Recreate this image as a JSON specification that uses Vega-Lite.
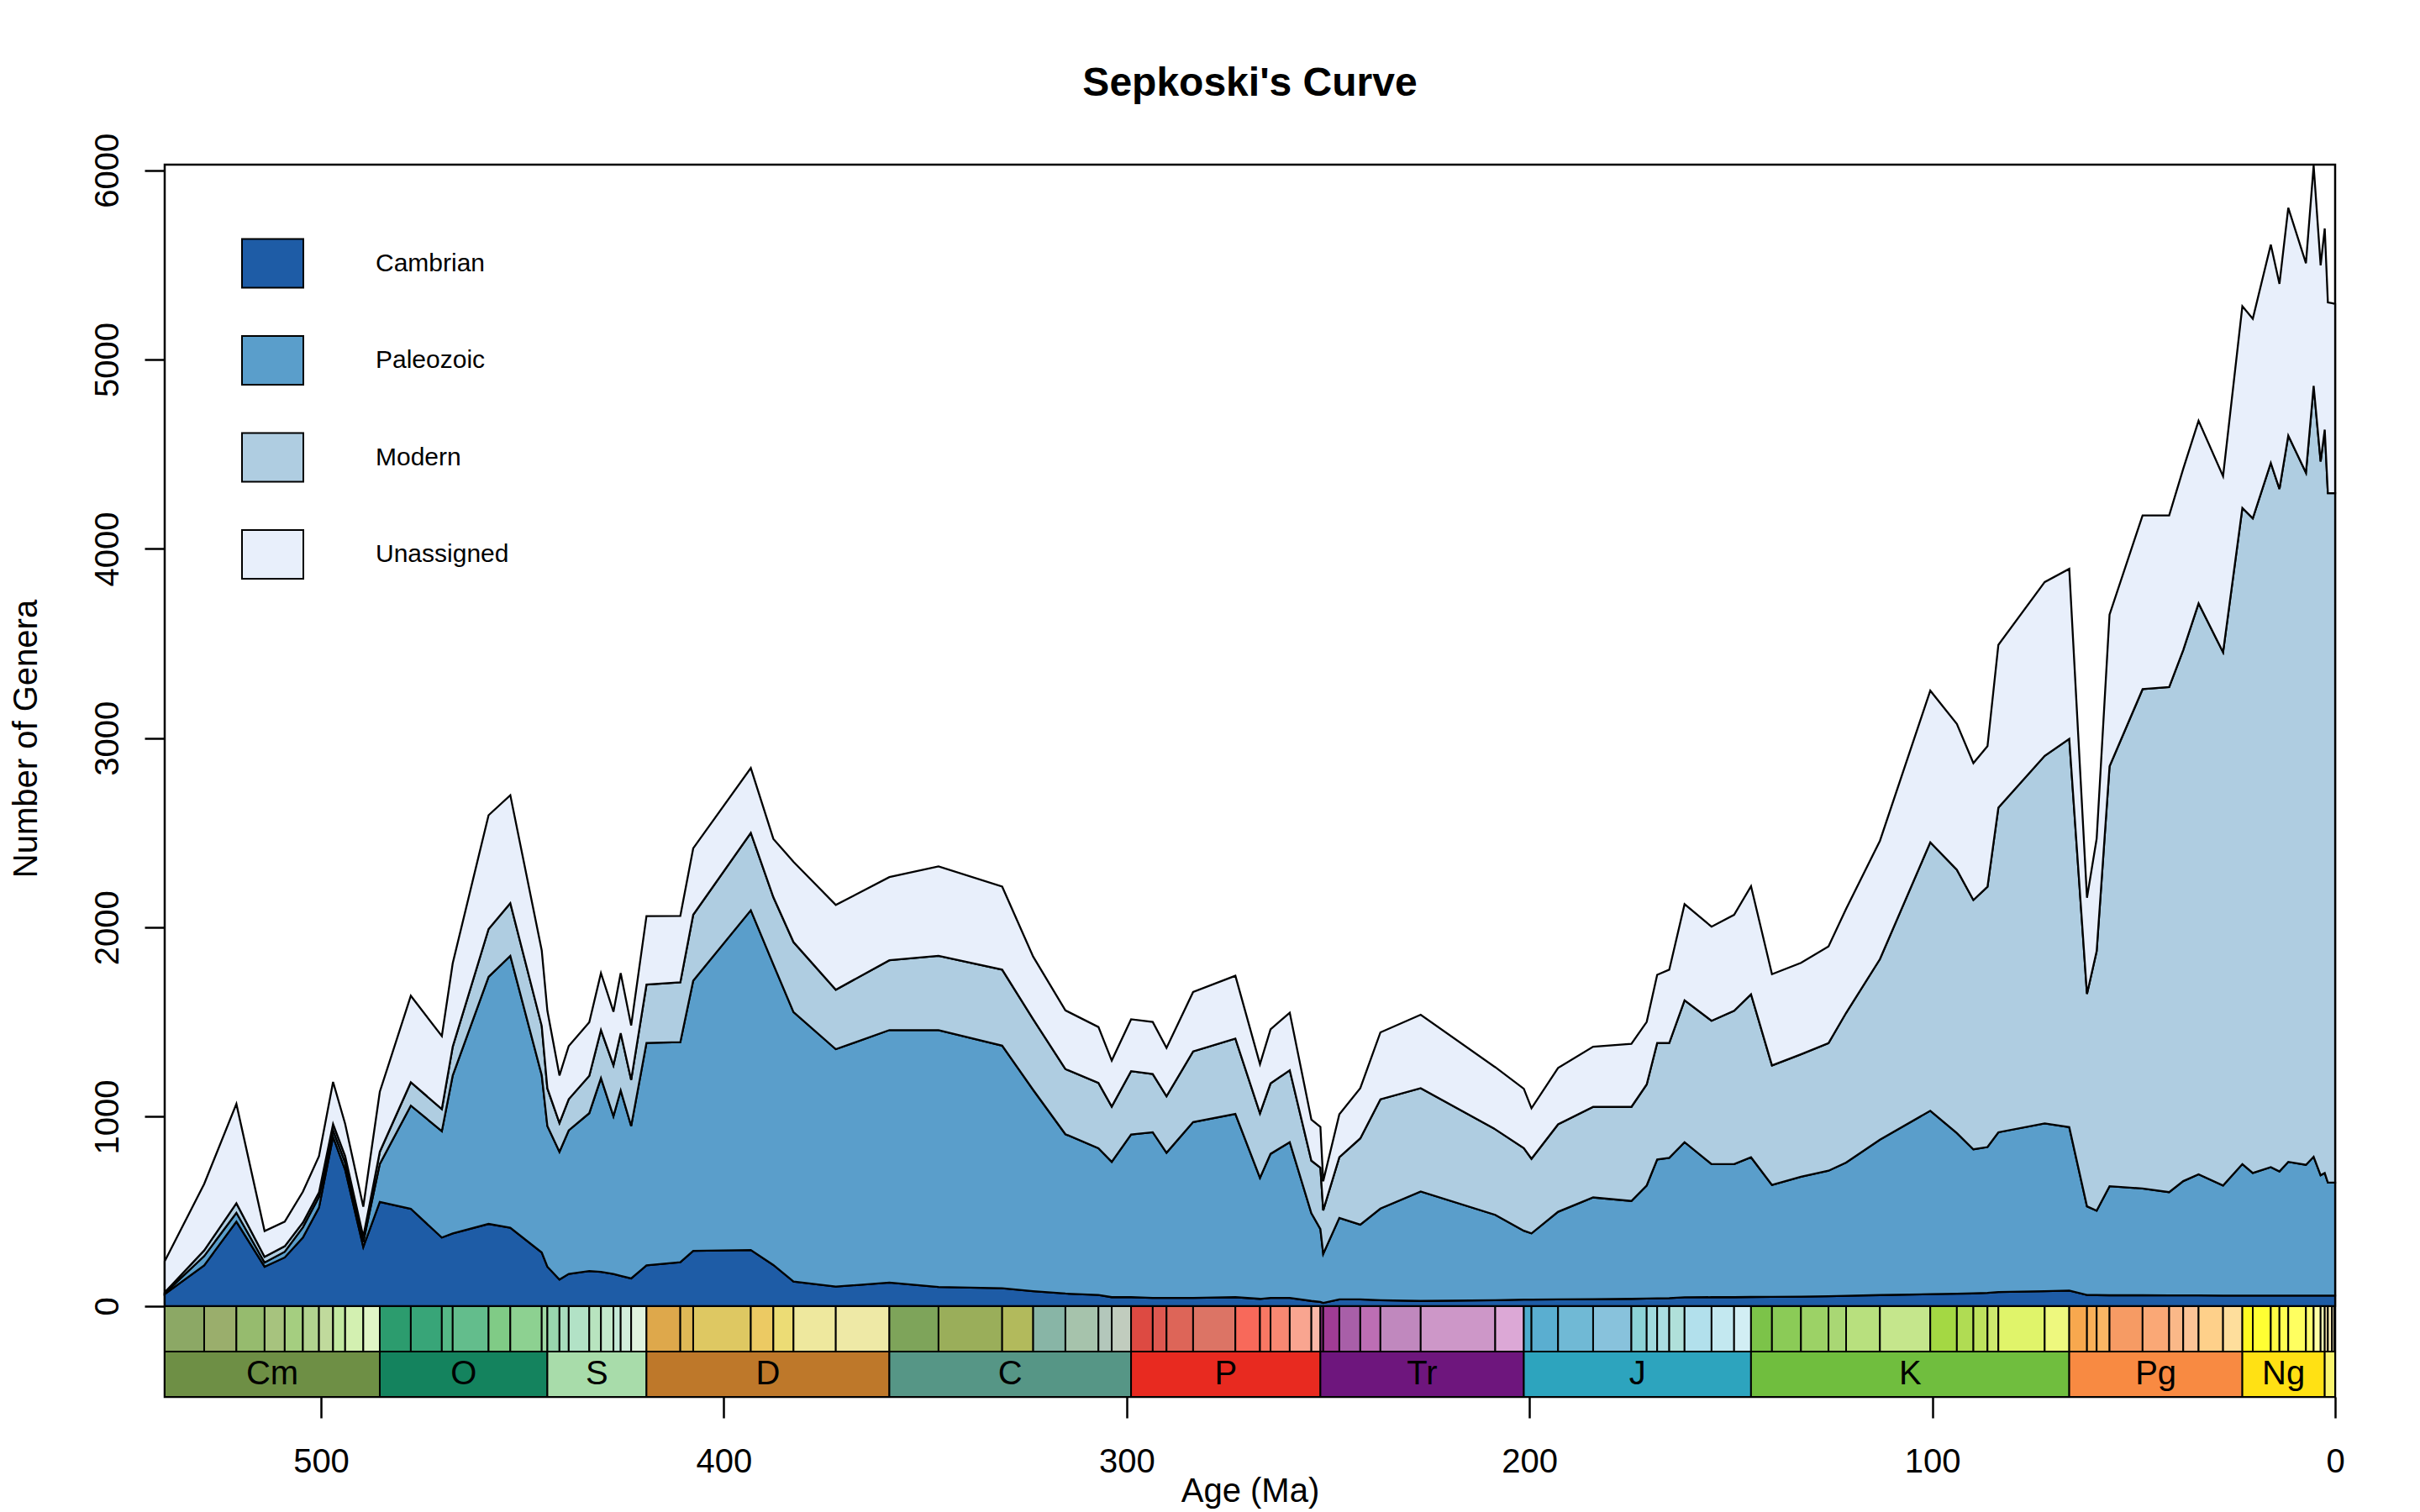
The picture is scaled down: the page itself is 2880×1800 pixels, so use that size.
{
  "$schema": "https://vega.github.io/schema/vega-lite/v6.json",
  "description": "Sepkoski's curve: stacked marine genera by evolutionary fauna, with geologic timescale",
  "width": 2583,
  "height": 1467,
  "autosize": {"type": "none"},
  "padding": {"left": 196, "top": 196, "right": 101, "bottom": 137},
  "background": "white",
  "title": {
    "text": "Sepkoski's Curve",
    "fontSize": 48,
    "fontWeight": "bold",
    "color": "black",
    "frame": "group",
    "anchor": "middle",
    "baseline": "alphabetic",
    "offset": -4
  },
  "config": {
    "font": "Liberation Sans",
    "view": {"stroke": "black", "strokeWidth": 2.5},
    "axis": {
      "grid": false,
      "domain": false,
      "tickColor": "black",
      "tickWidth": 2.5,
      "labelColor": "black",
      "titleColor": "black",
      "labelFontSize": 40,
      "titleFontSize": 40,
      "titleFontWeight": "normal"
    }
  },
  "datasets": {
    "sepkoski": [
      {"age": 538.8, "fauna": "Cambrian", "genera": 63}, {"age": 538.8, "fauna": "Paleozoic", "genera": 4}, {"age": 538.8, "fauna": "Modern", "genera": 5}, {"age": 538.8, "fauna": "Unassigned", "genera": 165},
      {"age": 529, "fauna": "Cambrian", "genera": 215}, {"age": 529, "fauna": "Paleozoic", "genera": 49}, {"age": 529, "fauna": "Modern", "genera": 30}, {"age": 529, "fauna": "Unassigned", "genera": 351},
      {"age": 521, "fauna": "Cambrian", "genera": 446}, {"age": 521, "fauna": "Paleozoic", "genera": 47}, {"age": 521, "fauna": "Modern", "genera": 50}, {"age": 521, "fauna": "Unassigned", "genera": 525},
      {"age": 514, "fauna": "Cambrian", "genera": 208}, {"age": 514, "fauna": "Paleozoic", "genera": 22}, {"age": 514, "fauna": "Modern", "genera": 30}, {"age": 514, "fauna": "Unassigned", "genera": 136},
      {"age": 509, "fauna": "Cambrian", "genera": 257}, {"age": 509, "fauna": "Paleozoic", "genera": 30}, {"age": 509, "fauna": "Modern", "genera": 29}, {"age": 509, "fauna": "Unassigned", "genera": 130},
      {"age": 504.5, "fauna": "Cambrian", "genera": 362}, {"age": 504.5, "fauna": "Paleozoic", "genera": 54}, {"age": 504.5, "fauna": "Modern", "genera": 25}, {"age": 504.5, "fauna": "Unassigned", "genera": 163},
      {"age": 500.5, "fauna": "Cambrian", "genera": 520}, {"age": 500.5, "fauna": "Paleozoic", "genera": 57}, {"age": 500.5, "fauna": "Modern", "genera": 23}, {"age": 500.5, "fauna": "Unassigned", "genera": 192},
      {"age": 497, "fauna": "Cambrian", "genera": 894}, {"age": 497, "fauna": "Paleozoic", "genera": 34}, {"age": 497, "fauna": "Modern", "genera": 34}, {"age": 497, "fauna": "Unassigned", "genera": 222},
      {"age": 494, "fauna": "Cambrian", "genera": 720}, {"age": 494, "fauna": "Paleozoic", "genera": 38}, {"age": 494, "fauna": "Modern", "genera": 34}, {"age": 494, "fauna": "Unassigned", "genera": 170},
      {"age": 489.5, "fauna": "Cambrian", "genera": 312}, {"age": 489.5, "fauna": "Paleozoic", "genera": 27}, {"age": 489.5, "fauna": "Modern", "genera": 28}, {"age": 489.5, "fauna": "Unassigned", "genera": 158},
      {"age": 485.4, "fauna": "Cambrian", "genera": 550}, {"age": 485.4, "fauna": "Paleozoic", "genera": 201}, {"age": 485.4, "fauna": "Modern", "genera": 64}, {"age": 485.4, "fauna": "Unassigned", "genera": 317},
      {"age": 477.7, "fauna": "Cambrian", "genera": 514}, {"age": 477.7, "fauna": "Paleozoic", "genera": 545}, {"age": 477.7, "fauna": "Modern", "genera": 123}, {"age": 477.7, "fauna": "Unassigned", "genera": 457},
      {"age": 470, "fauna": "Cambrian", "genera": 362}, {"age": 470, "fauna": "Paleozoic", "genera": 562}, {"age": 470, "fauna": "Modern", "genera": 117}, {"age": 470, "fauna": "Unassigned", "genera": 385},
      {"age": 467.3, "fauna": "Cambrian", "genera": 384}, {"age": 467.3, "fauna": "Paleozoic", "genera": 834}, {"age": 467.3, "fauna": "Modern", "genera": 152}, {"age": 467.3, "fauna": "Unassigned", "genera": 441},
      {"age": 458.4, "fauna": "Cambrian", "genera": 434}, {"age": 458.4, "fauna": "Paleozoic", "genera": 1305}, {"age": 458.4, "fauna": "Modern", "genera": 253}, {"age": 458.4, "fauna": "Unassigned", "genera": 601},
      {"age": 453, "fauna": "Cambrian", "genera": 414}, {"age": 453, "fauna": "Paleozoic", "genera": 1436}, {"age": 453, "fauna": "Modern", "genera": 278}, {"age": 453, "fauna": "Unassigned", "genera": 571},
      {"age": 445.2, "fauna": "Cambrian", "genera": 283}, {"age": 445.2, "fauna": "Paleozoic", "genera": 937}, {"age": 445.2, "fauna": "Modern", "genera": 260}, {"age": 445.2, "fauna": "Unassigned", "genera": 399},
      {"age": 443.8, "fauna": "Cambrian", "genera": 208}, {"age": 443.8, "fauna": "Paleozoic", "genera": 743}, {"age": 443.8, "fauna": "Modern", "genera": 199}, {"age": 443.8, "fauna": "Unassigned", "genera": 410},
      {"age": 440.8, "fauna": "Cambrian", "genera": 140}, {"age": 440.8, "fauna": "Paleozoic", "genera": 675}, {"age": 440.8, "fauna": "Modern", "genera": 152}, {"age": 440.8, "fauna": "Unassigned", "genera": 251},
      {"age": 438.5, "fauna": "Cambrian", "genera": 170}, {"age": 438.5, "fauna": "Paleozoic", "genera": 758}, {"age": 438.5, "fauna": "Modern", "genera": 165}, {"age": 438.5, "fauna": "Unassigned", "genera": 281},
      {"age": 433.4, "fauna": "Cambrian", "genera": 185}, {"age": 433.4, "fauna": "Paleozoic", "genera": 834}, {"age": 433.4, "fauna": "Modern", "genera": 197}, {"age": 433.4, "fauna": "Unassigned", "genera": 283},
      {"age": 430.5, "fauna": "Cambrian", "genera": 181}, {"age": 430.5, "fauna": "Paleozoic", "genera": 1023}, {"age": 430.5, "fauna": "Modern", "genera": 254}, {"age": 430.5, "fauna": "Unassigned", "genera": 301},
      {"age": 427.4, "fauna": "Cambrian", "genera": 170}, {"age": 427.4, "fauna": "Paleozoic", "genera": 833}, {"age": 427.4, "fauna": "Modern", "genera": 269}, {"age": 427.4, "fauna": "Unassigned", "genera": 283},
      {"age": 425.6, "fauna": "Cambrian", "genera": 160}, {"age": 425.6, "fauna": "Paleozoic", "genera": 979}, {"age": 425.6, "fauna": "Modern", "genera": 303}, {"age": 425.6, "fauna": "Unassigned", "genera": 317},
      {"age": 423, "fauna": "Cambrian", "genera": 146}, {"age": 423, "fauna": "Paleozoic", "genera": 805}, {"age": 423, "fauna": "Modern", "genera": 244}, {"age": 423, "fauna": "Unassigned", "genera": 287},
      {"age": 419.2, "fauna": "Cambrian", "genera": 215}, {"age": 419.2, "fauna": "Paleozoic", "genera": 1175}, {"age": 419.2, "fauna": "Modern", "genera": 308}, {"age": 419.2, "fauna": "Unassigned", "genera": 362},
      {"age": 410.8, "fauna": "Cambrian", "genera": 232}, {"age": 410.8, "fauna": "Paleozoic", "genera": 1162}, {"age": 410.8, "fauna": "Modern", "genera": 316}, {"age": 410.8, "fauna": "Unassigned", "genera": 351},
      {"age": 407.6, "fauna": "Cambrian", "genera": 292}, {"age": 407.6, "fauna": "Paleozoic", "genera": 1427}, {"age": 407.6, "fauna": "Modern", "genera": 348}, {"age": 407.6, "fauna": "Unassigned", "genera": 351},
      {"age": 393.3, "fauna": "Cambrian", "genera": 296}, {"age": 393.3, "fauna": "Paleozoic", "genera": 1795}, {"age": 393.3, "fauna": "Modern", "genera": 409}, {"age": 393.3, "fauna": "Unassigned", "genera": 342},
      {"age": 387.7, "fauna": "Cambrian", "genera": 217}, {"age": 387.7, "fauna": "Paleozoic", "genera": 1588}, {"age": 387.7, "fauna": "Modern", "genera": 355}, {"age": 387.7, "fauna": "Unassigned", "genera": 308},
      {"age": 382.7, "fauna": "Cambrian", "genera": 130}, {"age": 382.7, "fauna": "Paleozoic", "genera": 1423}, {"age": 382.7, "fauna": "Modern", "genera": 370}, {"age": 382.7, "fauna": "Unassigned", "genera": 424},
      {"age": 372.2, "fauna": "Cambrian", "genera": 103}, {"age": 372.2, "fauna": "Paleozoic", "genera": 1254}, {"age": 372.2, "fauna": "Modern", "genera": 314}, {"age": 372.2, "fauna": "Unassigned", "genera": 448},
      {"age": 358.9, "fauna": "Cambrian", "genera": 124}, {"age": 358.9, "fauna": "Paleozoic", "genera": 1334}, {"age": 358.9, "fauna": "Modern", "genera": 369}, {"age": 358.9, "fauna": "Unassigned", "genera": 439},
      {"age": 346.7, "fauna": "Cambrian", "genera": 101}, {"age": 346.7, "fauna": "Paleozoic", "genera": 1357}, {"age": 346.7, "fauna": "Modern", "genera": 392}, {"age": 346.7, "fauna": "Unassigned", "genera": 473},
      {"age": 330.9, "fauna": "Cambrian", "genera": 94}, {"age": 330.9, "fauna": "Paleozoic", "genera": 1282}, {"age": 330.9, "fauna": "Modern", "genera": 401}, {"age": 330.9, "fauna": "Unassigned", "genera": 439},
      {"age": 323.2, "fauna": "Cambrian", "genera": 79}, {"age": 323.2, "fauna": "Paleozoic", "genera": 1063}, {"age": 323.2, "fauna": "Modern", "genera": 373}, {"age": 323.2, "fauna": "Unassigned", "genera": 331},
      {"age": 315.2, "fauna": "Cambrian", "genera": 66}, {"age": 315.2, "fauna": "Paleozoic", "genera": 842}, {"age": 315.2, "fauna": "Modern", "genera": 344}, {"age": 315.2, "fauna": "Unassigned", "genera": 310},
      {"age": 307, "fauna": "Cambrian", "genera": 59}, {"age": 307, "fauna": "Paleozoic", "genera": 775}, {"age": 307, "fauna": "Modern", "genera": 345}, {"age": 307, "fauna": "Unassigned", "genera": 295},
      {"age": 303.7, "fauna": "Cambrian", "genera": 47}, {"age": 303.7, "fauna": "Paleozoic", "genera": 715}, {"age": 303.7, "fauna": "Modern", "genera": 292}, {"age": 303.7, "fauna": "Unassigned", "genera": 243},
      {"age": 298.9, "fauna": "Cambrian", "genera": 47}, {"age": 298.9, "fauna": "Paleozoic", "genera": 859}, {"age": 298.9, "fauna": "Modern", "genera": 335}, {"age": 298.9, "fauna": "Unassigned", "genera": 274},
      {"age": 293.52, "fauna": "Cambrian", "genera": 43}, {"age": 293.52, "fauna": "Paleozoic", "genera": 875}, {"age": 293.52, "fauna": "Modern", "genera": 308}, {"age": 293.52, "fauna": "Unassigned", "genera": 275},
      {"age": 290.1, "fauna": "Cambrian", "genera": 43}, {"age": 290.1, "fauna": "Paleozoic", "genera": 767}, {"age": 290.1, "fauna": "Modern", "genera": 298}, {"age": 290.1, "fauna": "Unassigned", "genera": 256},
      {"age": 283.5, "fauna": "Cambrian", "genera": 43}, {"age": 283.5, "fauna": "Paleozoic", "genera": 929}, {"age": 283.5, "fauna": "Modern", "genera": 373}, {"age": 283.5, "fauna": "Unassigned", "genera": 314},
      {"age": 273.01, "fauna": "Cambrian", "genera": 47}, {"age": 273.01, "fauna": "Paleozoic", "genera": 968}, {"age": 273.01, "fauna": "Modern", "genera": 398}, {"age": 273.01, "fauna": "Unassigned", "genera": 332},
      {"age": 266.9, "fauna": "Cambrian", "genera": 38}, {"age": 266.9, "fauna": "Paleozoic", "genera": 639}, {"age": 266.9, "fauna": "Modern", "genera": 341}, {"age": 266.9, "fauna": "Unassigned", "genera": 260},
      {"age": 264.28, "fauna": "Cambrian", "genera": 43}, {"age": 264.28, "fauna": "Paleozoic", "genera": 761}, {"age": 264.28, "fauna": "Modern", "genera": 372}, {"age": 264.28, "fauna": "Unassigned", "genera": 286},
      {"age": 259.51, "fauna": "Cambrian", "genera": 43}, {"age": 259.51, "fauna": "Paleozoic", "genera": 823}, {"age": 259.51, "fauna": "Modern", "genera": 380}, {"age": 259.51, "fauna": "Unassigned", "genera": 304},
      {"age": 254.14, "fauna": "Cambrian", "genera": 27}, {"age": 254.14, "fauna": "Paleozoic", "genera": 463}, {"age": 254.14, "fauna": "Modern", "genera": 278}, {"age": 254.14, "fauna": "Unassigned", "genera": 217},
      {"age": 251.902, "fauna": "Cambrian", "genera": 22}, {"age": 251.902, "fauna": "Paleozoic", "genera": 385}, {"age": 251.902, "fauna": "Modern", "genera": 324}, {"age": 251.902, "fauna": "Unassigned", "genera": 215},
      {"age": 251.2, "fauna": "Cambrian", "genera": 17}, {"age": 251.2, "fauna": "Paleozoic", "genera": 259}, {"age": 251.2, "fauna": "Modern", "genera": 230}, {"age": 251.2, "fauna": "Unassigned", "genera": 154},
      {"age": 247.2, "fauna": "Cambrian", "genera": 35}, {"age": 247.2, "fauna": "Paleozoic", "genera": 431}, {"age": 247.2, "fauna": "Modern", "genera": 320}, {"age": 247.2, "fauna": "Unassigned", "genera": 227},
      {"age": 242, "fauna": "Cambrian", "genera": 35}, {"age": 242, "fauna": "Paleozoic", "genera": 395}, {"age": 242, "fauna": "Modern", "genera": 456}, {"age": 242, "fauna": "Unassigned", "genera": 265},
      {"age": 237, "fauna": "Cambrian", "genera": 31}, {"age": 237, "fauna": "Paleozoic", "genera": 484}, {"age": 237, "fauna": "Modern", "genera": 577}, {"age": 237, "fauna": "Unassigned", "genera": 354},
      {"age": 227, "fauna": "Cambrian", "genera": 27}, {"age": 227, "fauna": "Paleozoic", "genera": 578}, {"age": 227, "fauna": "Modern", "genera": 546}, {"age": 227, "fauna": "Unassigned", "genera": 388},
      {"age": 208.5, "fauna": "Cambrian", "genera": 31}, {"age": 208.5, "fauna": "Paleozoic", "genera": 451}, {"age": 208.5, "fauna": "Modern", "genera": 452}, {"age": 208.5, "fauna": "Unassigned", "genera": 328},
      {"age": 201.4, "fauna": "Cambrian", "genera": 34}, {"age": 201.4, "fauna": "Paleozoic", "genera": 364}, {"age": 201.4, "fauna": "Modern", "genera": 436}, {"age": 201.4, "fauna": "Unassigned", "genera": 314},
      {"age": 199.5, "fauna": "Cambrian", "genera": 34}, {"age": 199.5, "fauna": "Paleozoic", "genera": 350}, {"age": 199.5, "fauna": "Modern", "genera": 394}, {"age": 199.5, "fauna": "Unassigned", "genera": 267},
      {"age": 192.9, "fauna": "Cambrian", "genera": 35}, {"age": 192.9, "fauna": "Paleozoic", "genera": 463}, {"age": 192.9, "fauna": "Modern", "genera": 462}, {"age": 192.9, "fauna": "Unassigned", "genera": 298},
      {"age": 184.2, "fauna": "Cambrian", "genera": 36}, {"age": 184.2, "fauna": "Paleozoic", "genera": 538}, {"age": 184.2, "fauna": "Modern", "genera": 478}, {"age": 184.2, "fauna": "Unassigned", "genera": 318},
      {"age": 174.7, "fauna": "Cambrian", "genera": 38}, {"age": 174.7, "fauna": "Paleozoic", "genera": 517}, {"age": 174.7, "fauna": "Modern", "genera": 497}, {"age": 174.7, "fauna": "Unassigned", "genera": 333},
      {"age": 170.9, "fauna": "Cambrian", "genera": 40}, {"age": 170.9, "fauna": "Paleozoic", "genera": 597}, {"age": 170.9, "fauna": "Modern", "genera": 534}, {"age": 170.9, "fauna": "Unassigned", "genera": 330},
      {"age": 168.3, "fauna": "Cambrian", "genera": 41}, {"age": 168.3, "fauna": "Paleozoic", "genera": 733}, {"age": 168.3, "fauna": "Modern", "genera": 616}, {"age": 168.3, "fauna": "Unassigned", "genera": 360},
      {"age": 165.3, "fauna": "Cambrian", "genera": 42}, {"age": 165.3, "fauna": "Paleozoic", "genera": 741}, {"age": 165.3, "fauna": "Modern", "genera": 607}, {"age": 165.3, "fauna": "Unassigned", "genera": 387},
      {"age": 161.5, "fauna": "Cambrian", "genera": 46}, {"age": 161.5, "fauna": "Paleozoic", "genera": 820}, {"age": 161.5, "fauna": "Modern", "genera": 749}, {"age": 161.5, "fauna": "Unassigned", "genera": 508},
      {"age": 154.8, "fauna": "Cambrian", "genera": 47}, {"age": 154.8, "fauna": "Paleozoic", "genera": 703}, {"age": 154.8, "fauna": "Modern", "genera": 757}, {"age": 154.8, "fauna": "Unassigned", "genera": 497},
      {"age": 149.2, "fauna": "Cambrian", "genera": 47}, {"age": 149.2, "fauna": "Paleozoic", "genera": 703}, {"age": 149.2, "fauna": "Modern", "genera": 810}, {"age": 149.2, "fauna": "Unassigned", "genera": 507},
      {"age": 145, "fauna": "Cambrian", "genera": 48}, {"age": 145, "fauna": "Paleozoic", "genera": 738}, {"age": 145, "fauna": "Modern", "genera": 861}, {"age": 145, "fauna": "Unassigned", "genera": 571},
      {"age": 139.8, "fauna": "Cambrian", "genera": 49}, {"age": 139.8, "fauna": "Paleozoic", "genera": 591}, {"age": 139.8, "fauna": "Modern", "genera": 631}, {"age": 139.8, "fauna": "Unassigned", "genera": 482},
      {"age": 132.6, "fauna": "Cambrian", "genera": 50}, {"age": 132.6, "fauna": "Paleozoic", "genera": 633}, {"age": 132.6, "fauna": "Modern", "genera": 647}, {"age": 132.6, "fauna": "Unassigned", "genera": 483},
      {"age": 125.77, "fauna": "Cambrian", "genera": 52}, {"age": 125.77, "fauna": "Paleozoic", "genera": 663}, {"age": 125.77, "fauna": "Modern", "genera": 674}, {"age": 125.77, "fauna": "Unassigned", "genera": 511},
      {"age": 121.4, "fauna": "Cambrian", "genera": 54}, {"age": 121.4, "fauna": "Paleozoic", "genera": 704}, {"age": 121.4, "fauna": "Modern", "genera": 791}, {"age": 121.4, "fauna": "Unassigned", "genera": 549},
      {"age": 113, "fauna": "Cambrian", "genera": 58}, {"age": 113, "fauna": "Paleozoic", "genera": 821}, {"age": 113, "fauna": "Modern", "genera": 954}, {"age": 113, "fauna": "Unassigned", "genera": 625},
      {"age": 100.5, "fauna": "Cambrian", "genera": 63}, {"age": 100.5, "fauna": "Paleozoic", "genera": 969}, {"age": 100.5, "fauna": "Modern", "genera": 1418}, {"age": 100.5, "fauna": "Unassigned", "genera": 801},
      {"age": 93.9, "fauna": "Cambrian", "genera": 65}, {"age": 93.9, "fauna": "Paleozoic", "genera": 849}, {"age": 93.9, "fauna": "Modern", "genera": 1391}, {"age": 93.9, "fauna": "Unassigned", "genera": 770},
      {"age": 89.8, "fauna": "Cambrian", "genera": 67}, {"age": 89.8, "fauna": "Paleozoic", "genera": 761}, {"age": 89.8, "fauna": "Modern", "genera": 1317}, {"age": 89.8, "fauna": "Unassigned", "genera": 723},
      {"age": 86.3, "fauna": "Cambrian", "genera": 70}, {"age": 86.3, "fauna": "Paleozoic", "genera": 770}, {"age": 86.3, "fauna": "Modern", "genera": 1375}, {"age": 86.3, "fauna": "Unassigned", "genera": 743},
      {"age": 83.6, "fauna": "Cambrian", "genera": 74}, {"age": 83.6, "fauna": "Paleozoic", "genera": 844}, {"age": 83.6, "fauna": "Modern", "genera": 1715}, {"age": 83.6, "fauna": "Unassigned", "genera": 860},
      {"age": 72.1, "fauna": "Cambrian", "genera": 79}, {"age": 72.1, "fauna": "Paleozoic", "genera": 886}, {"age": 72.1, "fauna": "Modern", "genera": 1942}, {"age": 72.1, "fauna": "Unassigned", "genera": 918},
      {"age": 66, "fauna": "Cambrian", "genera": 82}, {"age": 66, "fauna": "Paleozoic", "genera": 863}, {"age": 66, "fauna": "Modern", "genera": 2052}, {"age": 66, "fauna": "Unassigned", "genera": 898},
      {"age": 61.6, "fauna": "Cambrian", "genera": 59}, {"age": 61.6, "fauna": "Paleozoic", "genera": 468}, {"age": 61.6, "fauna": "Modern", "genera": 1122}, {"age": 61.6, "fauna": "Unassigned", "genera": 508},
      {"age": 59.2, "fauna": "Cambrian", "genera": 58}, {"age": 59.2, "fauna": "Paleozoic", "genera": 446}, {"age": 59.2, "fauna": "Modern", "genera": 1371}, {"age": 59.2, "fauna": "Unassigned", "genera": 594},
      {"age": 56, "fauna": "Cambrian", "genera": 57}, {"age": 56, "fauna": "Paleozoic", "genera": 576}, {"age": 56, "fauna": "Modern", "genera": 2218}, {"age": 56, "fauna": "Unassigned", "genera": 802},
      {"age": 47.8, "fauna": "Cambrian", "genera": 57}, {"age": 47.8, "fauna": "Paleozoic", "genera": 564}, {"age": 47.8, "fauna": "Modern", "genera": 2638}, {"age": 47.8, "fauna": "Unassigned", "genera": 918},
      {"age": 41.2, "fauna": "Cambrian", "genera": 56}, {"age": 41.2, "fauna": "Paleozoic", "genera": 546}, {"age": 41.2, "fauna": "Modern", "genera": 2668}, {"age": 41.2, "fauna": "Unassigned", "genera": 907},
      {"age": 37.71, "fauna": "Cambrian", "genera": 56}, {"age": 37.71, "fauna": "Paleozoic", "genera": 604}, {"age": 37.71, "fauna": "Modern", "genera": 2806}, {"age": 37.71, "fauna": "Unassigned", "genera": 957},
      {"age": 33.9, "fauna": "Cambrian", "genera": 56}, {"age": 33.9, "fauna": "Paleozoic", "genera": 640}, {"age": 33.9, "fauna": "Modern", "genera": 3016}, {"age": 33.9, "fauna": "Unassigned", "genera": 965},
      {"age": 27.82, "fauna": "Cambrian", "genera": 55}, {"age": 27.82, "fauna": "Paleozoic", "genera": 582}, {"age": 27.82, "fauna": "Modern", "genera": 2817}, {"age": 27.82, "fauna": "Unassigned", "genera": 930},
      {"age": 23.03, "fauna": "Cambrian", "genera": 55}, {"age": 23.03, "fauna": "Paleozoic", "genera": 695}, {"age": 23.03, "fauna": "Modern", "genera": 3466}, {"age": 23.03, "fauna": "Unassigned", "genera": 1066},
      {"age": 20.44, "fauna": "Cambrian", "genera": 55}, {"age": 20.44, "fauna": "Paleozoic", "genera": 648}, {"age": 20.44, "fauna": "Modern", "genera": 3458}, {"age": 20.44, "fauna": "Unassigned", "genera": 1055},
      {"age": 15.97, "fauna": "Cambrian", "genera": 55}, {"age": 15.97, "fauna": "Paleozoic", "genera": 679}, {"age": 15.97, "fauna": "Modern", "genera": 3720}, {"age": 15.97, "fauna": "Unassigned", "genera": 1153},
      {"age": 13.82, "fauna": "Cambrian", "genera": 55}, {"age": 13.82, "fauna": "Paleozoic", "genera": 656}, {"age": 13.82, "fauna": "Modern", "genera": 3606}, {"age": 13.82, "fauna": "Unassigned", "genera": 1083},
      {"age": 11.63, "fauna": "Cambrian", "genera": 55}, {"age": 11.63, "fauna": "Paleozoic", "genera": 707}, {"age": 11.63, "fauna": "Modern", "genera": 3837}, {"age": 11.63, "fauna": "Unassigned", "genera": 1203},
      {"age": 7.246, "fauna": "Cambrian", "genera": 55}, {"age": 7.246, "fauna": "Paleozoic", "genera": 691}, {"age": 7.246, "fauna": "Modern", "genera": 3657}, {"age": 7.246, "fauna": "Unassigned", "genera": 1106},
      {"age": 5.333, "fauna": "Cambrian", "genera": 55}, {"age": 5.333, "fauna": "Paleozoic", "genera": 734}, {"age": 5.333, "fauna": "Modern", "genera": 4072}, {"age": 5.333, "fauna": "Unassigned", "genera": 1164},
      {"age": 3.6, "fauna": "Cambrian", "genera": 55}, {"age": 3.6, "fauna": "Paleozoic", "genera": 636}, {"age": 3.6, "fauna": "Modern", "genera": 3771}, {"age": 3.6, "fauna": "Unassigned", "genera": 1036},
      {"age": 2.58, "fauna": "Cambrian", "genera": 55}, {"age": 2.58, "fauna": "Paleozoic", "genera": 648}, {"age": 2.58, "fauna": "Modern", "genera": 3927}, {"age": 2.58, "fauna": "Unassigned", "genera": 1063},
      {"age": 1.8, "fauna": "Cambrian", "genera": 55}, {"age": 1.8, "fauna": "Paleozoic", "genera": 597}, {"age": 1.8, "fauna": "Modern", "genera": 3642}, {"age": 1.8, "fauna": "Unassigned", "genera": 1008},
      {"age": 0.774, "fauna": "Cambrian", "genera": 55}, {"age": 0.774, "fauna": "Paleozoic", "genera": 597}, {"age": 0.774, "fauna": "Modern", "genera": 3642}, {"age": 0.774, "fauna": "Unassigned", "genera": 1004},
      {"age": 0, "fauna": "Cambrian", "genera": 55}, {"age": 0, "fauna": "Paleozoic", "genera": 597}, {"age": 0, "fauna": "Modern", "genera": 3642}, {"age": 0, "fauna": "Unassigned", "genera": 1000}
    ],
    "timescale": [
      {"unit": "Fortunian", "rank": "stage", "start": 538.8, "end": 529},
      {"unit": "Stage 2", "rank": "stage", "start": 529, "end": 521},
      {"unit": "Stage 3", "rank": "stage", "start": 521, "end": 514},
      {"unit": "Stage 4", "rank": "stage", "start": 514, "end": 509},
      {"unit": "Wuliuan", "rank": "stage", "start": 509, "end": 504.5},
      {"unit": "Drumian", "rank": "stage", "start": 504.5, "end": 500.5},
      {"unit": "Guzhangian", "rank": "stage", "start": 500.5, "end": 497},
      {"unit": "Paibian", "rank": "stage", "start": 497, "end": 494},
      {"unit": "Jiangshanian", "rank": "stage", "start": 494, "end": 489.5},
      {"unit": "Stage 10", "rank": "stage", "start": 489.5, "end": 485.4},
      {"unit": "Tremadocian", "rank": "stage", "start": 485.4, "end": 477.7},
      {"unit": "Floian", "rank": "stage", "start": 477.7, "end": 470},
      {"unit": "Dapingian", "rank": "stage", "start": 470, "end": 467.3},
      {"unit": "Darriwilian", "rank": "stage", "start": 467.3, "end": 458.4},
      {"unit": "Sandbian", "rank": "stage", "start": 458.4, "end": 453},
      {"unit": "Katian", "rank": "stage", "start": 453, "end": 445.2},
      {"unit": "Hirnantian", "rank": "stage", "start": 445.2, "end": 443.8},
      {"unit": "Rhuddanian", "rank": "stage", "start": 443.8, "end": 440.8},
      {"unit": "Aeronian", "rank": "stage", "start": 440.8, "end": 438.5},
      {"unit": "Telychian", "rank": "stage", "start": 438.5, "end": 433.4},
      {"unit": "Sheinwoodian", "rank": "stage", "start": 433.4, "end": 430.5},
      {"unit": "Homerian", "rank": "stage", "start": 430.5, "end": 427.4},
      {"unit": "Gorstian", "rank": "stage", "start": 427.4, "end": 425.6},
      {"unit": "Ludfordian", "rank": "stage", "start": 425.6, "end": 423},
      {"unit": "Pridoli", "rank": "stage", "start": 423, "end": 419.2},
      {"unit": "Lochkovian", "rank": "stage", "start": 419.2, "end": 410.8},
      {"unit": "Pragian", "rank": "stage", "start": 410.8, "end": 407.6},
      {"unit": "Emsian", "rank": "stage", "start": 407.6, "end": 393.3},
      {"unit": "Eifelian", "rank": "stage", "start": 393.3, "end": 387.7},
      {"unit": "Givetian", "rank": "stage", "start": 387.7, "end": 382.7},
      {"unit": "Frasnian", "rank": "stage", "start": 382.7, "end": 372.2},
      {"unit": "Famennian", "rank": "stage", "start": 372.2, "end": 358.9},
      {"unit": "Tournaisian", "rank": "stage", "start": 358.9, "end": 346.7},
      {"unit": "Visean", "rank": "stage", "start": 346.7, "end": 330.9},
      {"unit": "Serpukhovian", "rank": "stage", "start": 330.9, "end": 323.2},
      {"unit": "Bashkirian", "rank": "stage", "start": 323.2, "end": 315.2},
      {"unit": "Moscovian", "rank": "stage", "start": 315.2, "end": 307},
      {"unit": "Kasimovian", "rank": "stage", "start": 307, "end": 303.7},
      {"unit": "Gzhelian", "rank": "stage", "start": 303.7, "end": 298.9},
      {"unit": "Asselian", "rank": "stage", "start": 298.9, "end": 293.52},
      {"unit": "Sakmarian", "rank": "stage", "start": 293.52, "end": 290.1},
      {"unit": "Artinskian", "rank": "stage", "start": 290.1, "end": 283.5},
      {"unit": "Kungurian", "rank": "stage", "start": 283.5, "end": 273.01},
      {"unit": "Roadian", "rank": "stage", "start": 273.01, "end": 266.9},
      {"unit": "Wordian", "rank": "stage", "start": 266.9, "end": 264.28},
      {"unit": "Capitanian", "rank": "stage", "start": 264.28, "end": 259.51},
      {"unit": "Wuchiapingian", "rank": "stage", "start": 259.51, "end": 254.14},
      {"unit": "Changhsingian", "rank": "stage", "start": 254.14, "end": 251.902},
      {"unit": "Induan", "rank": "stage", "start": 251.902, "end": 251.2},
      {"unit": "Olenekian", "rank": "stage", "start": 251.2, "end": 247.2},
      {"unit": "Anisian", "rank": "stage", "start": 247.2, "end": 242},
      {"unit": "Ladinian", "rank": "stage", "start": 242, "end": 237},
      {"unit": "Carnian", "rank": "stage", "start": 237, "end": 227},
      {"unit": "Norian", "rank": "stage", "start": 227, "end": 208.5},
      {"unit": "Rhaetian", "rank": "stage", "start": 208.5, "end": 201.4},
      {"unit": "Hettangian", "rank": "stage", "start": 201.4, "end": 199.5},
      {"unit": "Sinemurian", "rank": "stage", "start": 199.5, "end": 192.9},
      {"unit": "Pliensbachian", "rank": "stage", "start": 192.9, "end": 184.2},
      {"unit": "Toarcian", "rank": "stage", "start": 184.2, "end": 174.7},
      {"unit": "Aalenian", "rank": "stage", "start": 174.7, "end": 170.9},
      {"unit": "Bajocian", "rank": "stage", "start": 170.9, "end": 168.3},
      {"unit": "Bathonian", "rank": "stage", "start": 168.3, "end": 165.3},
      {"unit": "Callovian", "rank": "stage", "start": 165.3, "end": 161.5},
      {"unit": "Oxfordian", "rank": "stage", "start": 161.5, "end": 154.8},
      {"unit": "Kimmeridgian", "rank": "stage", "start": 154.8, "end": 149.2},
      {"unit": "Tithonian", "rank": "stage", "start": 149.2, "end": 145},
      {"unit": "Berriasian", "rank": "stage", "start": 145, "end": 139.8},
      {"unit": "Valanginian", "rank": "stage", "start": 139.8, "end": 132.6},
      {"unit": "Hauterivian", "rank": "stage", "start": 132.6, "end": 125.77},
      {"unit": "Barremian", "rank": "stage", "start": 125.77, "end": 121.4},
      {"unit": "Aptian", "rank": "stage", "start": 121.4, "end": 113},
      {"unit": "Albian", "rank": "stage", "start": 113, "end": 100.5},
      {"unit": "Cenomanian", "rank": "stage", "start": 100.5, "end": 93.9},
      {"unit": "Turonian", "rank": "stage", "start": 93.9, "end": 89.8},
      {"unit": "Coniacian", "rank": "stage", "start": 89.8, "end": 86.3},
      {"unit": "Santonian", "rank": "stage", "start": 86.3, "end": 83.6},
      {"unit": "Campanian", "rank": "stage", "start": 83.6, "end": 72.1},
      {"unit": "Maastrichtian", "rank": "stage", "start": 72.1, "end": 66},
      {"unit": "Danian", "rank": "stage", "start": 66, "end": 61.6},
      {"unit": "Selandian", "rank": "stage", "start": 61.6, "end": 59.2},
      {"unit": "Thanetian", "rank": "stage", "start": 59.2, "end": 56},
      {"unit": "Ypresian", "rank": "stage", "start": 56, "end": 47.8},
      {"unit": "Lutetian", "rank": "stage", "start": 47.8, "end": 41.2},
      {"unit": "Bartonian", "rank": "stage", "start": 41.2, "end": 37.71},
      {"unit": "Priabonian", "rank": "stage", "start": 37.71, "end": 33.9},
      {"unit": "Rupelian", "rank": "stage", "start": 33.9, "end": 27.82},
      {"unit": "Chattian", "rank": "stage", "start": 27.82, "end": 23.03},
      {"unit": "Aquitanian", "rank": "stage", "start": 23.03, "end": 20.44},
      {"unit": "Burdigalian", "rank": "stage", "start": 20.44, "end": 15.97},
      {"unit": "Langhian", "rank": "stage", "start": 15.97, "end": 13.82},
      {"unit": "Serravallian", "rank": "stage", "start": 13.82, "end": 11.63},
      {"unit": "Tortonian", "rank": "stage", "start": 11.63, "end": 7.246},
      {"unit": "Messinian", "rank": "stage", "start": 7.246, "end": 5.333},
      {"unit": "Zanclean", "rank": "stage", "start": 5.333, "end": 3.6},
      {"unit": "Piacenzian", "rank": "stage", "start": 3.6, "end": 2.58},
      {"unit": "Gelasian", "rank": "stage", "start": 2.58, "end": 1.8},
      {"unit": "Calabrian", "rank": "stage", "start": 1.8, "end": 0.774},
      {"unit": "Chibanian", "rank": "stage", "start": 0.774, "end": 0.129},
      {"unit": "Upper Pleistocene", "rank": "stage", "start": 0.129, "end": 0.0117},
      {"unit": "Holocene", "rank": "stage", "start": 0.0117, "end": 0},
      {"unit": "Cambrian", "rank": "period", "abbr": "Cm", "start": 538.8, "end": 485.4},
      {"unit": "Ordovician", "rank": "period", "abbr": "O", "start": 485.4, "end": 443.8},
      {"unit": "Silurian", "rank": "period", "abbr": "S", "start": 443.8, "end": 419.2},
      {"unit": "Devonian", "rank": "period", "abbr": "D", "start": 419.2, "end": 358.9},
      {"unit": "Carboniferous", "rank": "period", "abbr": "C", "start": 358.9, "end": 298.9},
      {"unit": "Permian", "rank": "period", "abbr": "P", "start": 298.9, "end": 251.902},
      {"unit": "Triassic", "rank": "period", "abbr": "Tr", "start": 251.902, "end": 201.4},
      {"unit": "Jurassic", "rank": "period", "abbr": "J", "start": 201.4, "end": 145},
      {"unit": "Cretaceous", "rank": "period", "abbr": "K", "start": 145, "end": 66},
      {"unit": "Paleogene", "rank": "period", "abbr": "Pg", "start": 66, "end": 23.03},
      {"unit": "Neogene", "rank": "period", "abbr": "Ng", "start": 23.03, "end": 2.58},
      {"unit": "Quaternary", "rank": "period", "abbr": "", "start": 2.58, "end": 0}
    ]
  },
  "layer": [
    {
      "data": {"name": "timescale"},
      "transform": [{"filter": "datum.rank == 'stage'"}],
      "mark": {"type": "rect", "stroke": "black", "strokeWidth": 2},
      "encoding": {
        "x": {"field": "start", "type": "quantitative", "title": "Age (Ma)", "scale": {"domain": [0, 538.8], "reverse": true, "nice": false, "zero": false}},
        "x2": {"field": "end"},
        "y": {"datum": 0, "type": "quantitative", "title": "Number of Genera", "scale": {"domain": [-480, 6030], "nice": false, "zero": false}},
        "y2": {"datum": -240},
        "fill": {
          "field": "unit",
          "type": "nominal",
          "legend": null,
          "scale": {
            "domain": ["Fortunian", "Stage 2", "Stage 3", "Stage 4", "Wuliuan", "Drumian", "Guzhangian", "Paibian", "Jiangshanian", "Stage 10", "Tremadocian", "Floian", "Dapingian", "Darriwilian", "Sandbian", "Katian", "Hirnantian", "Rhuddanian", "Aeronian", "Telychian", "Sheinwoodian", "Homerian", "Gorstian", "Ludfordian", "Pridoli", "Lochkovian", "Pragian", "Emsian", "Eifelian", "Givetian", "Frasnian", "Famennian", "Tournaisian", "Visean", "Serpukhovian", "Bashkirian", "Moscovian", "Kasimovian", "Gzhelian", "Asselian", "Sakmarian", "Artinskian", "Kungurian", "Roadian", "Wordian", "Capitanian", "Wuchiapingian", "Changhsingian", "Induan", "Olenekian", "Anisian", "Ladinian", "Carnian", "Norian", "Rhaetian", "Hettangian", "Sinemurian", "Pliensbachian", "Toarcian", "Aalenian", "Bajocian", "Bathonian", "Callovian", "Oxfordian", "Kimmeridgian", "Tithonian", "Berriasian", "Valanginian", "Hauterivian", "Barremian", "Aptian", "Albian", "Cenomanian", "Turonian", "Coniacian", "Santonian", "Campanian", "Maastrichtian", "Danian", "Selandian", "Thanetian", "Ypresian", "Lutetian", "Bartonian", "Priabonian", "Rupelian", "Chattian", "Aquitanian", "Burdigalian", "Langhian", "Serravallian", "Tortonian", "Messinian", "Zanclean", "Piacenzian", "Gelasian", "Calabrian", "Chibanian", "Upper Pleistocene", "Holocene", "Cambrian", "Ordovician", "Silurian", "Devonian", "Carboniferous", "Permian", "Triassic", "Jurassic", "Cretaceous", "Paleogene", "Neogene", "Quaternary"],
            "range": ["#8CA865", "#9AAE6C", "#96BB6E", "#A7C37E", "#A5CE80", "#B2D38F", "#C0DA9C", "#C3E9A1", "#D3F0B1", "#E0F5C6", "#2C9C6E", "#38A578", "#56B886", "#63BD8C", "#80CB86", "#8DD191", "#A0DAA4", "#99D6AE", "#A8DDBE", "#B2E2C6", "#B8E4BF", "#C3E8CB", "#C5E9D7", "#D2EEDC", "#E0F3DE", "#DEA84B", "#DFB856", "#DEC862", "#ECCA63", "#ECDC75", "#EEE89E", "#EEE9A6", "#7EA45A", "#9AAE5A", "#B2BA5C", "#88B5A6", "#A6C3AC", "#B3C7BB", "#C1CCBE", "#DD4A42", "#DE5850", "#DD6558", "#DC7465", "#F8695A", "#F87863", "#F88872", "#F9A590", "#FAB8A8", "#9C3490", "#A03C94", "#A85FA8", "#BC6EB4", "#C088BE", "#CD97C8", "#DCA8D6", "#4EACCD", "#5AAED0", "#70B9D5", "#88C2DC", "#8CD2D6", "#A0DADE", "#AADEE2", "#B0E0DA", "#B2E0EC", "#C3E8F0", "#D2EEF4", "#7CC349", "#8BCB57", "#9CD266", "#A9D774", "#B8E07E", "#C5E68C", "#A4D843", "#B0DC53", "#BEE25E", "#CDE96E", "#E0F46A", "#EEF87E", "#F8A84E", "#FAB058", "#FAB664", "#F69B64", "#FAA876", "#FAB888", "#FCC496", "#FED08A", "#FEDE9C", "#FFFA22", "#FFFF33", "#FFFA44", "#FFFF52", "#FFFF60", "#FFFF6E", "#FFFFA6", "#FFFFB4", "#FFEDB3", "#FFF2BA", "#FFF2C7", "#FFF2D3", "#FEEBD2", "#6E8F45", "#14835E", "#A8DCAA", "#BE782A", "#569686", "#E82A20", "#6E167D", "#2DA4BE", "#70BE3E", "#F88A42", "#FFE114", "#FAF56E"]
          }
        }
      }
    },
    {
      "data": {"name": "timescale"},
      "transform": [{"filter": "datum.rank == 'period'"}],
      "mark": {"type": "rect", "stroke": "black", "strokeWidth": 2},
      "encoding": {
        "x": {"field": "start", "type": "quantitative", "title": "Age (Ma)", "scale": {"domain": [0, 538.8], "reverse": true, "nice": false, "zero": false}},
        "x2": {"field": "end"},
        "y": {"datum": -240, "type": "quantitative", "title": "Number of Genera", "scale": {"domain": [-480, 6030], "nice": false, "zero": false}},
        "y2": {"datum": -480},
        "fill": {"field": "unit", "type": "nominal", "legend": null}
      }
    },
    {
      "data": {"name": "timescale"},
      "transform": [
        {"filter": "datum.rank == 'period'"},
        {"calculate": "(datum.start + datum.end) / 2", "as": "mid"}
      ],
      "mark": {"type": "text", "fontSize": 40, "align": "center", "baseline": "middle", "color": "black"},
      "encoding": {
        "x": {"field": "mid", "type": "quantitative", "title": "Age (Ma)", "scale": {"domain": [0, 538.8], "reverse": true, "nice": false, "zero": false}},
        "y": {"datum": -360, "type": "quantitative", "title": "Number of Genera", "scale": {"domain": [-480, 6030], "nice": false, "zero": false}},
        "text": {"field": "abbr"}
      }
    },
    {
      "data": {"name": "sepkoski"},
      "transform": [
        {"calculate": "indexof(['Cambrian', 'Paleozoic', 'Modern', 'Unassigned'], datum.fauna)", "as": "stackOrder"}
      ],
      "mark": {"type": "area", "stroke": "black", "strokeWidth": 2.3, "interpolate": "linear", "opacity": 1},
      "encoding": {
        "x": {
          "field": "age",
          "type": "quantitative",
          "title": "Age (Ma)",
          "scale": {"domain": [0, 538.8], "reverse": true, "nice": false, "zero": false},
          "axis": {
            "values": [500, 400, 300, 200, 100, 0],
            "format": "d",
            "tickSize": 25,
            "labelPadding": 32,
            "labelFlush": false,
            "labelOverlap": false,
            "titleY": 124,
            "titleBaseline": "alphabetic"
          }
        },
        "y": {
          "field": "genera",
          "type": "quantitative",
          "stack": "zero",
          "title": "Number of Genera",
          "scale": {"domain": [-480, 6030], "nice": false, "zero": false},
          "axis": {
            "values": [0, 1000, 2000, 3000, 4000, 5000, 6000],
            "format": "d",
            "tickSize": 24,
            "labelAngle": -90,
            "labelAlign": "center",
            "labelBaseline": "alphabetic",
            "labelPadding": 32,
            "labelFlush": false,
            "labelOverlap": false,
            "titleAngle": -90,
            "titleAlign": "center",
            "titleBaseline": "alphabetic",
            "titleX": -152.6,
            "titleY": 683
          }
        },
        "color": {
          "field": "fauna",
          "type": "nominal",
          "scale": {
            "domain": ["Cambrian", "Paleozoic", "Modern", "Unassigned"],
            "range": ["#1E5CA6", "#5A9ECB", "#AFCDE1", "#E8EFFB"]
          },
          "legend": {
            "title": null,
            "orient": "none",
            "direction": "vertical",
            "legendX": 91,
            "legendY": 80,
            "padding": 0,
            "symbolType": "M-1,-0.795H1V0.795H-1Z",
            "symbolSize": 5329,
            "symbolStrokeColor": "black",
            "symbolStrokeWidth": 2,
            "symbolOpacity": 1,
            "labelFontSize": 30,
            "labelColor": "black",
            "labelOffset": 85,
            "labelLimit": 0,
            "rowPadding": 44.5
          }
        },
        "order": {"field": "stackOrder", "type": "quantitative"}
      }
    }
  ]
}
